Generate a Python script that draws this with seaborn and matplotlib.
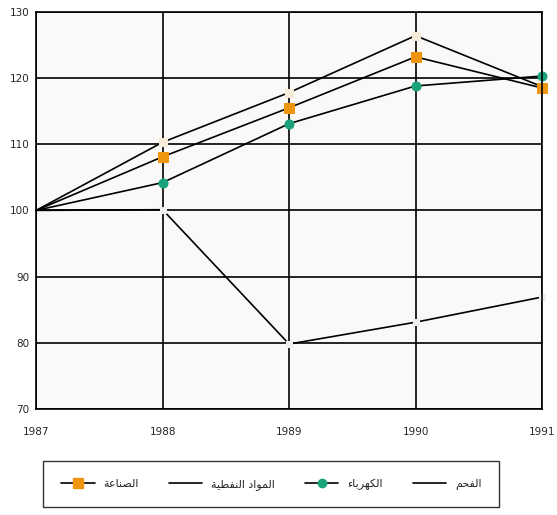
import pandas as pd
import numpy as np
import seaborn as sns
import matplotlib.pyplot as plt
from matplotlib.lines import Line2D

sns.set_style("white")
plt.rcParams['font.family'] = ['DejaVu Sans']

years = [1987, 1988, 1989, 1990, 1991]
year_labels = ["1987", "1988", "1989", "1990", "1991"]
industry = [100, 108.1, 115.5, 123.2, 118.5]
petroleum = [100, 110.3, 117.8, 126.4, 118.7]
electricity = [100, 104.2, 113.1, 118.8, 120.3]
coal = [100, 100.1, 79.8, 83.1, 86.9]

# arabic labels, pre-shaped presentation forms in visual (left to right) order
lbl_industry = "\uFE94\uFECB\uFE8E\uFEE8\uFEBC\uFEDF\uFE8D"
lbl_petroleum = "\uFE94\uFEF4\uFEC4\uFED4\uFEE8\uFEDF\uFE8D \uFEA9\uFE8D\uFEEE\uFEE4\uFEDF\uFE8D"
lbl_electricity = "\uFE80\uFE8E\uFE91\uFEAE\uFEEC\uFEDC\uFEDF\uFE8D"
lbl_coal = "\uFEE2\uFEA4\uFED4\uFEDF\uFE8D"

df = pd.DataFrame({"year": years, "industry": industry, "petroleum": petroleum,
                   "electricity": electricity, "coal": coal})

fig = plt.figure(figsize=(5.57, 5.15), dpi=100)
fig.patch.set_facecolor("white")
ax = fig.add_axes([0.065, 0.206, 0.908, 0.771])
ax.set_facecolor("#faf9f8")

mk = [1, 2, 3, 4]
sns.lineplot(data=df, x="year", y="petroleum", ax=ax, color="black", lw=1.2, clip_on=False,
             marker="s", markersize=6, markevery=mk, markerfacecolor="#f6ead8", markeredgecolor="#f6ead8")
sns.lineplot(data=df, x="year", y="coal", ax=ax, color="black", lw=1.2, clip_on=False,
             marker="s", markersize=5, markevery=mk, markerfacecolor="#efefef", markeredgecolor="#efefef")
sns.lineplot(data=df, x="year", y="electricity", ax=ax, color="black", lw=1.2, clip_on=False,
             marker="o", markersize=6.5, markevery=mk, markerfacecolor="#1aa37a", markeredgecolor="#1aa37a")
sns.lineplot(data=df, x="year", y="industry", ax=ax, color="black", lw=1.2, clip_on=False,
             marker="s", markersize=7, markevery=mk, markerfacecolor="#f0950f", markeredgecolor="#f0950f")

ax.set_xlim(1987, 1991)
ax.set_ylim(70, 130)
ax.set_xticks(years)
ax.set_xticklabels(year_labels)
ax.set_yticks(np.arange(70, 131, 10))
ax.grid(True, color="black", lw=1.2)
ax.set_axisbelow(True)
for s in ax.spines.values():
    s.set_color("black")
    s.set_linewidth(1.2)
ax.tick_params(axis="both", labelsize=7.5, length=3, direction="out", color="black")
ax.tick_params(axis="x", pad=10)
ax.tick_params(axis="y", pad=2)
ax.set_xlabel("")
ax.set_ylabel("")

handles = [
    Line2D([], [], color="black", lw=1.2, marker="s", markersize=7,
           markerfacecolor="#f0950f", markeredgecolor="#f0950f"),
    Line2D([], [], color="black", lw=1.2),
    Line2D([], [], color="black", lw=1.2, marker="o", markersize=6,
           markerfacecolor="#1aa37a", markeredgecolor="#1aa37a"),
    Line2D([], [], color="black", lw=1.2),
]
labels = [lbl_industry, lbl_petroleum, lbl_electricity, lbl_coal]
leg = fig.legend(handles, labels, loc="center", ncol=4, frameon=True, fancybox=False,
                 edgecolor="black", fontsize=8, bbox_to_anchor=(0.068, 0.0097, 0.838, 0.101),
                 mode="expand", handlelength=3, borderpad=1.6)
leg.get_frame().set_linewidth(1)

fig.savefig("out.png", dpi=100)
